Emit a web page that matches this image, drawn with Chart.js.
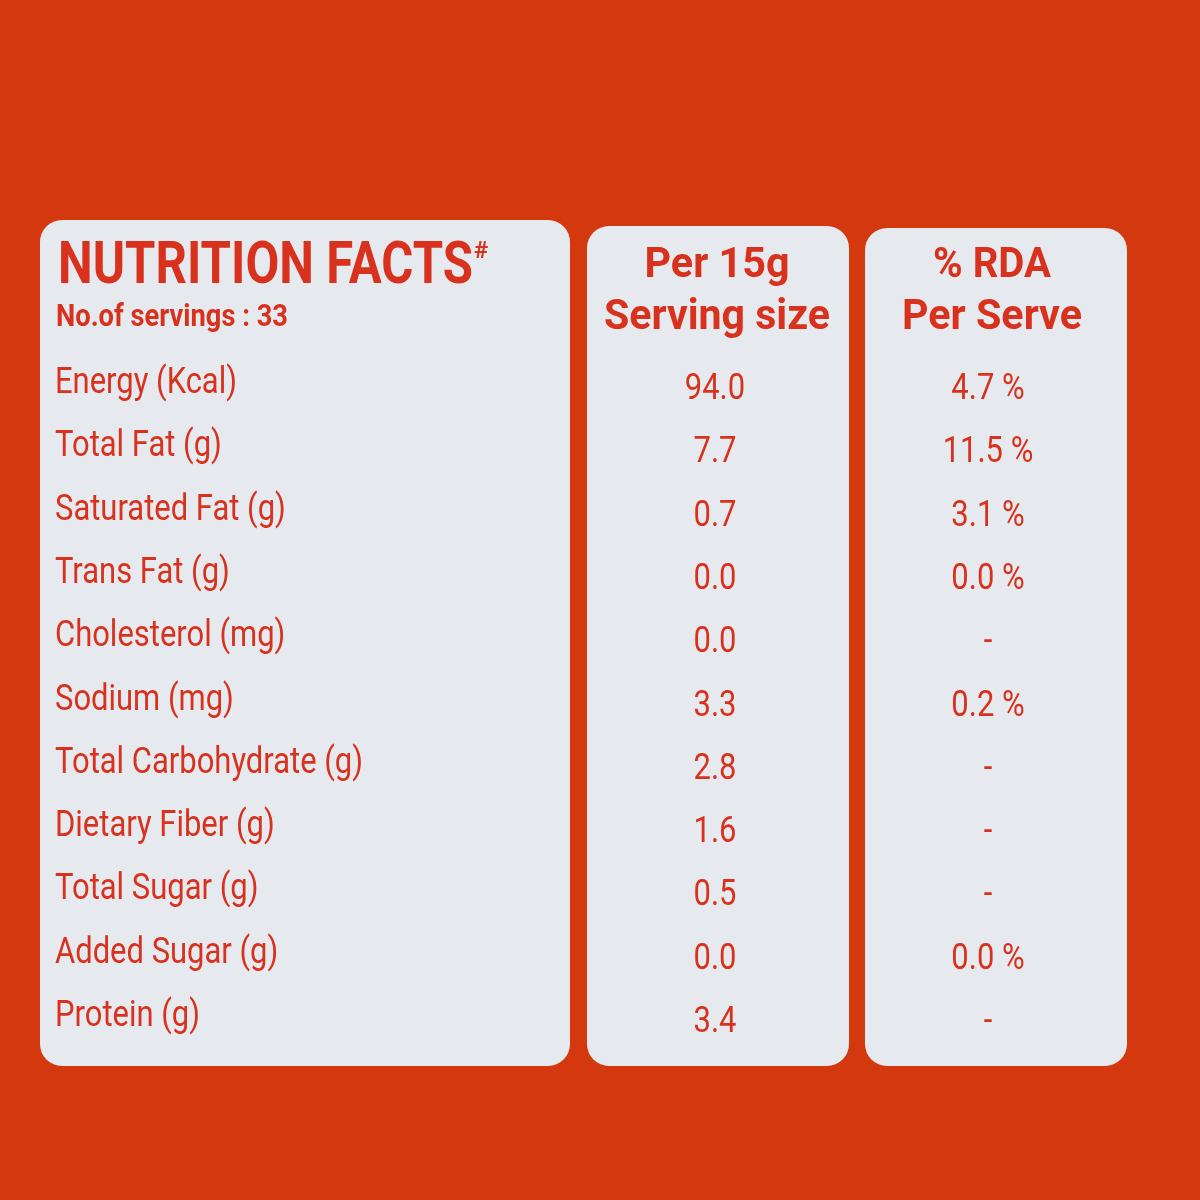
<!DOCTYPE html>
<html lang="en">
<head>
  <meta charset="UTF-8">
  <title>Nutrition Facts</title>
  <script src="https://cdn.jsdelivr.net/npm/chart.js"></script>
  <style>
    html, body { margin: 0; padding: 0; background: #d3380f; }
    #wrap { width: 1200px; height: 1200px; }
  </style>
</head>
<body>
  <div id="wrap"><canvas id="label"></canvas></div>

  <script>
    const nutrients = ['Energy (Kcal)', 'Total Fat (g)', 'Saturated Fat (g)', 'Trans Fat (g)',
      'Cholesterol (mg)', 'Sodium (mg)', 'Total Carbohydrate (g)', 'Dietary Fiber (g)',
      'Total Sugar (g)', 'Added Sugar (g)', 'Protein (g)'];
    const perServe = [94.0, 7.7, 0.7, 0.0, 0.0, 3.3, 2.8, 1.6, 0.5, 0.0, 3.4];
    const rdaPct = [4.7, 11.5, 3.1, 0.0, null, 0.2, null, null, null, 0.0, null];
    const servings = 33;

    const RED = '#d8321e';
    const FONT = '"Liberation Sans Narrow", Roboto, sans-serif';

    function roundRect(ctx, x, y, w, h, r) {
      ctx.beginPath();
      ctx.moveTo(x + r, y);
      ctx.arcTo(x + w, y, x + w, y + h, r);
      ctx.arcTo(x + w, y + h, x, y + h, r);
      ctx.arcTo(x, y + h, x, y, r);
      ctx.arcTo(x, y, x + w, y, r);
      ctx.closePath();
      ctx.fill();
    }

    // condensed text: squeeze to 86% of natural width
    function narrow(ctx, text, x, y) {
      ctx.fillText(text, x, y, ctx.measureText(text).width * 0.86);
    }

    const tablePlugin = {
      id: 'table',
      beforeDraw(chart) {
        const ctx = chart.ctx;
        ctx.save();
        ctx.fillStyle = '#d3380f';
        ctx.fillRect(0, 0, chart.width, chart.height);
        ctx.fillStyle = '#e6eaee';
        roundRect(ctx, 40, 220, 530, 846, 22);
        roundRect(ctx, 587, 226, 262, 840, 22);
        roundRect(ctx, 865, 228, 262, 838, 22);
        ctx.restore();
      },
      afterDraw(chart) {
        const ctx = chart.ctx;
        const x = chart.scales.x, y = chart.scales.y;
        ctx.save();
        ctx.fillStyle = RED;
        ctx.textBaseline = 'middle';

        ctx.textAlign = 'left';
        ctx.font = 'bold 60px ' + FONT;
        ctx.fillText('NUTRITION FACTS', 58, 268, 415);
        ctx.font = 'bold 24px ' + FONT;
        ctx.fillText('#', 474, 252);
        ctx.font = 'bold 32px ' + FONT;
        ctx.fillText('No.of servings : ' + servings, 56, 318, 232);

        ctx.textAlign = 'center';
        ctx.font = 'bold 42px ' + FONT;
        ctx.fillText('Per 15g', 717, 266, 145);
        ctx.fillText('Serving size', 717, 318, 226);
        ctx.fillText('% RDA', 992, 266, 118);
        ctx.fillText('Per Serve', 992, 318, 180);

        ctx.font = '36px ' + FONT;
        nutrients.forEach((n, i) => {
          const py = y.getPixelForValue(i);
          ctx.textAlign = 'left';
          narrow(ctx, n, x.getPixelForValue(55), py - 6);
          ctx.textAlign = 'center';
          narrow(ctx, perServe[i].toFixed(1), x.getPixelForValue(715), py);
          narrow(ctx, rdaPct[i] === null ? '-' : rdaPct[i].toFixed(1) + ' %',
            x.getPixelForValue(988), py);
        });
        ctx.restore();
      }
    };

    new Chart(document.getElementById('label'), {
      type: 'scatter',
      data: {
        datasets: [{
          data: perServe.map((v, i) => ({ x: 715, y: i })),
          pointRadius: 0
        }]
      },
      options: {
        responsive: true,
        maintainAspectRatio: false,
        animation: false,
        layout: { padding: { top: 390, bottom: 177, left: 0, right: 0 } },
        plugins: { legend: { display: false }, tooltip: { enabled: false } },
        scales: {
          x: { type: 'linear', min: 0, max: 1200, display: false },
          y: { type: 'linear', min: 0, max: nutrients.length - 1, reverse: true, display: false }
        }
      },
      plugins: [tablePlugin]
    });
  </script>
</body>
</html>
